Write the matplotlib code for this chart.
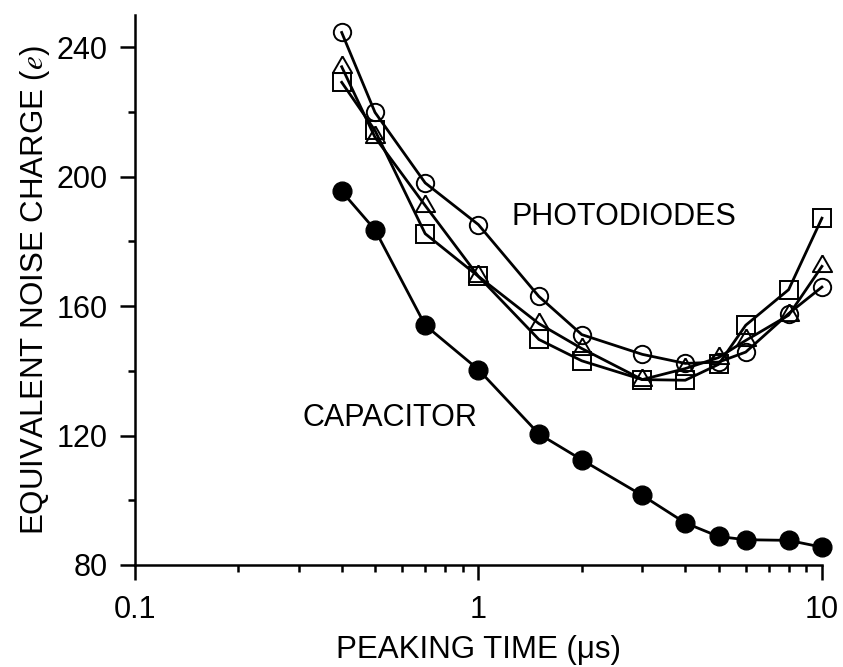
import numpy as np
import matplotlib
matplotlib.use("Agg")
import matplotlib.pyplot as plt
from matplotlib.ticker import FixedLocator, NullFormatter

plt.rcParams['font.family'] = ['Liberation Sans', 'DejaVu Sans']
plt.rcParams['mathtext.fontset'] = 'stix'

# peaking time (us)
tpeak = [0.4, 0.5, 0.7, 1, 1.5, 2, 3, 4, 5, 6, 8, 10]
# ENC (e)
capacitor = [195.5, 183.6, 154.1, 140.4, 120.5, 112.5, 101.5, 93.0, 88.8, 87.8, 87.6, 85.5]
pd_circle = [244.6, 219.9, 198.1, 185.2, 163.0, 151.2, 145.1, 142.3, 142.7, 145.8, 157.7, 165.9]
pd_triangle = [234.0, 212.2, 191.1, 169.2, 154.6, 146.9, 137.3, 140.7, 144.1, 149.4, 157.2, 172.3]
pd_square = [229.2, 214.3, 182.4, 169.2, 149.7, 143.1, 137.3, 137.1, 142.0, 154.1, 165.1, 187.2]

xticks = [0.1, 1, 10]
xticklabels = ['0.1', '1', '10']
yticks = [80, 120, 160, 200, 240]

# equilateral triangle marker
tri = [(0, 0.577), (-0.5, -0.289), (0.5, -0.289), (0, 0.577)]

fig = plt.figure(figsize=(8.43, 6.67), dpi=100)
ax = fig.add_subplot(111)
fig.subplots_adjust(left=0.160, right=0.975, bottom=0.153, top=0.9775)

lw = 2.0
ax.plot(tpeak, capacitor, '-', color='k', lw=lw, marker='o', ms=13.5,
        mfc='k', mec='k', clip_on=False)
ax.plot(tpeak, pd_circle, '-', color='k', lw=lw, marker='o', ms=12.5,
        mfc='none', mec='k', mew=1.4, clip_on=False)
ax.plot(tpeak, pd_triangle, '-', color='k', lw=lw, marker=tri, ms=16,
        mfc='none', mec='k', mew=1.4, clip_on=False)
ax.plot(tpeak, pd_square, '-', color='k', lw=lw, marker='s', ms=12.5,
        mfc='none', mec='k', mew=1.4, clip_on=False)

ax.set_xscale('log')
ax.set_xlim(0.1, 10)
ax.set_ylim(80, 250)
ax.xaxis.set_major_locator(FixedLocator(xticks))
ax.set_xticklabels(xticklabels)
minors = [m * d for d in [0.1, 1] for m in range(2, 10)]
ax.xaxis.set_minor_locator(FixedLocator(minors))
ax.xaxis.set_minor_formatter(NullFormatter())
ax.yaxis.set_major_locator(FixedLocator(yticks))
ax.yaxis.set_minor_locator(FixedLocator([100, 140, 180, 220]))

for s in ['top', 'right']:
    ax.spines[s].set_visible(False)
for s in ['left', 'bottom']:
    ax.spines[s].set_linewidth(1.8)

ax.tick_params(which='major', direction='out', length=10.5, width=1.8,
               labelsize=22)
ax.tick_params(which='minor', direction='out', length=5, width=1.8)
ax.tick_params(axis='x', which='major', pad=11)
ax.tick_params(axis='y', which='major', pad=9)

ax.set_xlabel('PEAKING TIME (\u03bcs)', fontsize=22.5)
ax.set_ylabel('EQUIVALENT NOISE CHARGE ($e$)', fontsize=22.5)
ax.xaxis.set_label_coords(0.5, -0.128)
ax.yaxis.set_label_coords(-0.12, 0.5)

ax.text(1.252, 187.7, 'PHOTODIODES', fontsize=22, ha='left', va='center')
ax.text(0.308, 125.4, 'CAPACITOR', fontsize=22, ha='left', va='center')

plt.savefig('out.png', dpi=100)
